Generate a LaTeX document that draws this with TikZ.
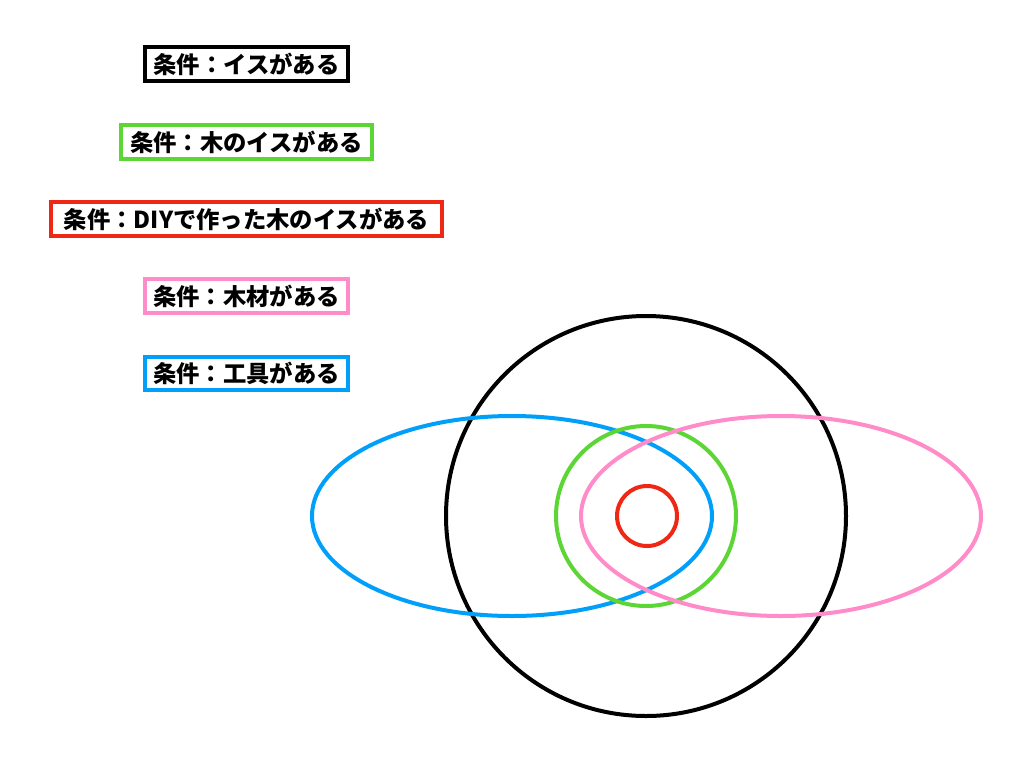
\documentclass[tikz,border=0pt]{standalone}
\usepackage{fontspec}
\newfontfamily\jpfont{Noto Sans CJK JP}
\definecolor{cgreen}{RGB}{92,214,52}
\definecolor{cred}{RGB}{238,40,20}
\definecolor{cpink}{RGB}{255,140,200}
\definecolor{cblue}{RGB}{0,160,250}
\tikzset{
  label box/.style={draw=#1, line width=3pt, fill=white, inner sep=0pt, minimum height=25pt,
    font=\jpfont\bfseries\fontsize{17.5pt}{20pt}\selectfont, text=black},
  ring/.style={draw=#1, line width=3pt},
}
\begin{document}
\begin{tikzpicture}[x=0.75pt, y=-0.75pt]
\useasboundingbox (0,0) rectangle (1024,768);
\fill[white] (0,0) rectangle (1024,768);
% shapes
\draw[ring=black] (646,516) ellipse [x radius=200, y radius=200];
\draw[ring=cblue] (512,516) ellipse [x radius=200, y radius=100];
\draw[ring=cgreen] (646,516) ellipse [x radius=90, y radius=90];
\draw[ring=cpink] (781,516) ellipse [x radius=200, y radius=100];
\draw[ring=cred] (647,516) ellipse [x radius=30, y radius=30];
% labels
\node[label box=black, minimum width=203*0.75pt] (l1) at (246.5,64) {条件：イスがある};
\node[label box=cgreen, minimum width=251*0.75pt] (l2) at (246.5,142) {条件：木のイスがある};
\node[label box=cred, minimum width=391*0.75pt] (l3) at (246.5,219) {条件：DIYで作った木のイスがある};
\node[label box=cpink, minimum width=203*0.75pt] (l4) at (246.5,296) {条件：木材がある};
\node[label box=cblue, minimum width=203*0.75pt] (l5) at (246.5,373.5) {条件：工具がある};
\end{tikzpicture}
\end{document}
